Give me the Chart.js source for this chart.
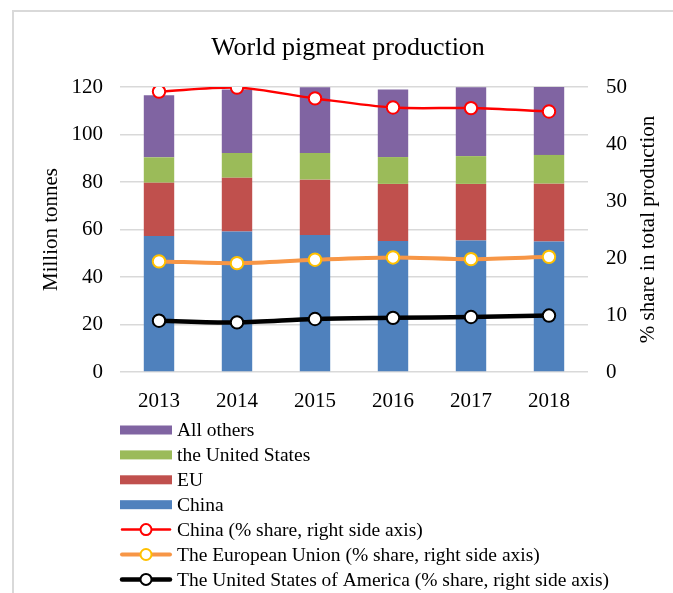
<!DOCTYPE html>
<html><head><meta charset="utf-8">
<script src="https://cdn.jsdelivr.net/npm/chart.js@4.4.0/dist/chart.umd.min.js"></script>
<style>html,body{margin:0;padding:0;background:#fff;overflow:hidden}#wrap{position:relative;width:673px;height:593px}</style>
</head><body><div id="wrap"><canvas id="c" width="673" height="593"></canvas></div>
<script>
const years = ['2013','2014','2015','2016','2017','2018'];
const china = [57.3, 59.2, 57.7, 55.2, 55.4, 55.0];
const eu = [22.4, 22.6, 23.3, 24.0, 23.8, 24.3];
const usa = [10.7, 10.4, 11.2, 11.3, 11.7, 12.1];
const others = [26.1, 26.8, 27.7, 28.5, 29.0, 28.7];
const chinaShare = [49.2, 49.9, 48.0, 46.4, 46.3, 45.7];
const euShare = [19.4, 19.1, 19.7, 20.1, 19.8, 20.2];
const usaShare = [9.0, 8.7, 9.3, 9.5, 9.65, 9.9];
const leftAxis = {min: 0, max: 120, step: 20};
const rightAxis = {min: 0, max: 50, step: 10};
const chartTitle = 'World pigmeat production';
const leftTitle = 'Million tonnes';
const rightTitle = '% share in total production';

const SERIF = '"Liberation Serif","Times New Roman",serif';
Chart.defaults.font.family = SERIF;
Chart.defaults.font.size = 21;
Chart.defaults.color = '#000';

const framePlugin = {
  id: 'frame',
  beforeDraw(chart) {
    const ctx = chart.ctx;
    ctx.save();
    ctx.strokeStyle = '#d9d9d9';
    ctx.lineWidth = 2;
    ctx.beginPath();
    ctx.moveTo(13, 600); ctx.lineTo(13, 11); ctx.lineTo(680, 11);
    ctx.stroke();
    ctx.restore();
  }
};

const extrasPlugin = {
  id: 'extras',
  afterDraw(chart) {
    const ctx = chart.ctx;
    const ca = chart.chartArea;
    ctx.save();
    ctx.fillStyle = '#000';
    ctx.font = '26px ' + SERIF;
    ctx.textAlign = 'center';
    ctx.textBaseline = 'alphabetic';
    ctx.fillText(chartTitle, 348, 54.5);
    ctx.restore();

    ctx.save();
    ctx.font = '21px ' + SERIF;
    ctx.fillStyle = '#000';
    ctx.textAlign = 'center';
    ctx.textBaseline = 'middle';
    ctx.translate(648, (ca.top + ca.bottom) / 2);
    ctx.rotate(-Math.PI / 2);
    ctx.fillText(rightTitle, 0, 0);
    ctx.restore();

    // legend
    ctx.save();
    const order = [3, 2, 1, 0, 4, 5, 6];
    const x0 = 120, x1 = 172, tx = 177, y0 = 430, dy = 24.9;
    ctx.font = '19.5px ' + SERIF;
    ctx.textBaseline = 'middle';
    ctx.textAlign = 'left';
    order.forEach((di, i) => {
      const ds = chart.data.datasets[di];
      const y = y0 + i * dy;
      if (ds.type === 'line') {
        ctx.strokeStyle = ds.borderColor;
        ctx.lineWidth = ds.borderWidth;
        ctx.lineCap = 'round';
        ctx.beginPath(); ctx.moveTo(x0 + 2, y); ctx.lineTo(x1 - 2, y); ctx.stroke();
        ctx.beginPath(); ctx.arc((x0 + x1) / 2, y, 5.5, 0, Math.PI * 2);
        ctx.fillStyle = '#fff'; ctx.fill();
        ctx.lineWidth = 2; ctx.strokeStyle = ds.pointBorderColor; ctx.stroke();
      } else {
        ctx.fillStyle = ds.backgroundColor;
        ctx.fillRect(x0, y - 4.5, x1 - x0, 9);
      }
      ctx.fillStyle = '#000';
      ctx.fillText(ds.label, tx, y + 1);
    });
    ctx.restore();
  }
};

const barCommon = {type: 'bar', yAxisID: 'y', stack: 'prod', order: 1, barPercentage: 0.39, categoryPercentage: 1.0};
const lineCommon = {type: 'line', yAxisID: 'y1', order: 0, tension: 0.3, pointRadius: 6.2, pointBorderWidth: 2, pointBackgroundColor: '#fff', fill: false};

new Chart(document.getElementById('c'), {
  data: {
    labels: years,
    datasets: [
      Object.assign({}, barCommon, {label: 'China', data: china, backgroundColor: '#4F81BD'}),
      Object.assign({}, barCommon, {label: 'EU', data: eu, backgroundColor: '#C0504D'}),
      Object.assign({}, barCommon, {label: 'the United States', data: usa, backgroundColor: '#9BBB59'}),
      Object.assign({}, barCommon, {label: 'All others', data: others, backgroundColor: '#8064A2'}),
      Object.assign({}, lineCommon, {label: 'China (% share, right side axis)', data: chinaShare, borderColor: '#FF0000', borderWidth: 2.5, pointBorderColor: '#FF0000'}),
      Object.assign({}, lineCommon, {label: 'The European Union (% share, right side axis)', data: euShare, borderColor: '#F79646', borderWidth: 4, pointBorderColor: '#FFC000'}),
      Object.assign({}, lineCommon, {label: 'The United States of America (% share, right side axis)', data: usaShare, borderColor: '#000000', borderWidth: 4.5, pointBorderColor: '#000000'})
    ]
  },
  options: {
    responsive: false,
    animation: false,
    layout: {padding: {top: 87, left: 0, right: 0, bottom: 175}},
    plugins: {
      legend: {display: false},
      tooltip: {enabled: false},
      title: {display: false}
    },
    scales: {
      x: {
        stacked: true,
        grid: {display: false},
        border: {display: false},
        ticks: {padding: 9, font: {size: 21}},
        afterFit(s) { s.height = 46; }
      },
      y: {
        position: 'left',
        stacked: true,
        min: leftAxis.min, max: leftAxis.max,
        ticks: {stepSize: leftAxis.step, padding: 17, font: {size: 21}},
        grid: {color: '#d9d9d9', lineWidth: 1.5, drawTicks: false},
        border: {display: false},
        title: {display: true, text: leftTitle, font: {size: 21}, padding: {top: 39, bottom: 0}},
        afterFit(s) { s.width = 120; }
      },
      y1: {
        position: 'right',
        min: rightAxis.min, max: rightAxis.max,
        ticks: {stepSize: rightAxis.step, padding: 18, font: {size: 21}},
        grid: {display: false, drawTicks: false},
        border: {display: false},
        afterFit(s) { s.width = 85; }
      }
    }
  },
  plugins: [framePlugin, extrasPlugin]
});
</script>
</body></html>
